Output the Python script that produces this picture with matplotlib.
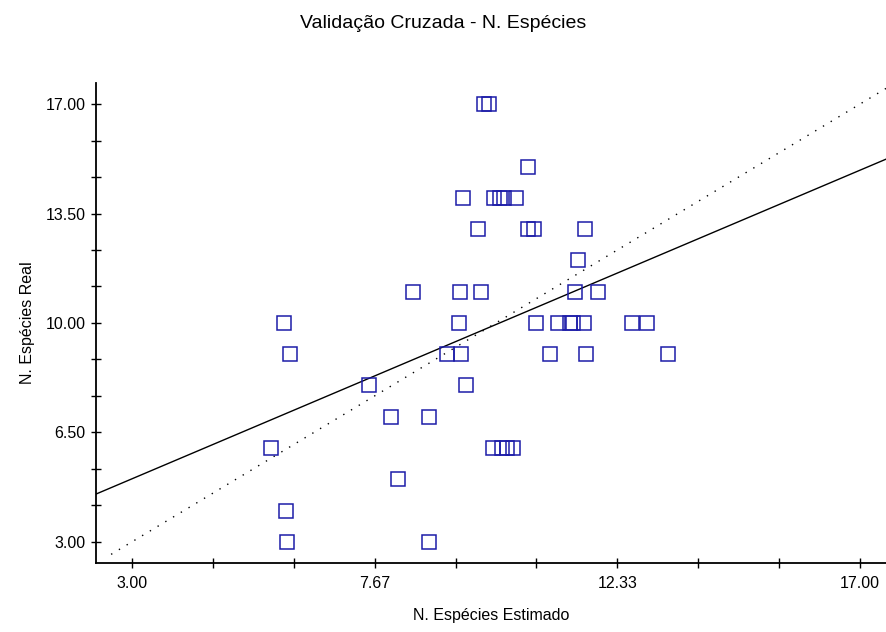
import numpy as np
import matplotlib
matplotlib.use('Agg')
from matplotlib import pyplot as plt

plt.rcParams['font.family'] = ['Liberation Sans', 'DejaVu Sans']

# estimated (x) vs real (y) species count, cross-validation
estimado = [9.77, 9.87,
            10.62,
            9.36, 9.97, 10.07, 10.15, 10.39,
            9.65, 10.61, 10.74, 11.71,
            11.58,
            8.40, 9.31, 9.71, 11.52, 11.96,
            5.93, 9.29, 10.77, 11.19, 11.43, 11.48, 11.70, 12.61, 12.90,
            6.03, 9.05, 9.33, 11.04, 11.74, 13.31,
            7.56, 9.42,
            7.98, 8.72,
            5.67, 9.94, 10.12, 10.21, 10.33,
            8.11,
            5.96,
            5.99, 8.72]
real = [17, 17,
        15,
        14, 14, 14, 14, 14,
        13, 13, 13, 13,
        12,
        11, 11, 11, 11, 11,
        10, 10, 10, 10, 10, 10, 10, 10, 10,
        9, 9, 9, 9, 9, 9,
        8, 8,
        7, 7,
        6, 6, 6, 6, 6,
        5,
        4,
        3, 3]

# fitted line y = a + b*x
intercept = 2.90
slope = 0.705

x_ticks = [3.0 + k * 14.0 / 9 for k in range(10)]
x_labels = ['3.00', '', '', '7.67', '', '', '12.33', '', '', '17.00']
y_ticks = [3.0 + k * 3.5 / 3 for k in range(13)]
y_labels = ['3.00', '', '', '6.50', '', '', '10.00', '', '', '13.50', '', '', '17.00']

fig = plt.figure(figsize=(8.86, 6.32), dpi=100, facecolor='w')
ax = fig.add_axes([0.1084, 0.109, 0.8916, 0.760])

xmin, xmax = 2.31, 17.5
ymin, ymax = 2.32, 17.68

xx = np.array([xmin, xmax])
ax.plot(xx, intercept + slope * xx, color='black', lw=1.0, zorder=2)
dd = np.array([2.6, 17.8])
ax.plot(dd, dd, color='black', lw=1.0, linestyle=(0, (1, 5.5)), zorder=2)

ax.plot(estimado, real, linestyle='none', marker='s', markersize=10,
        markerfacecolor='none', markeredgecolor='#1c1ca8', markeredgewidth=1.1,
        zorder=3)

ax.set_xlim(xmin, xmax)
ax.set_ylim(ymin, ymax)
ax.set_xticks(x_ticks)
ax.set_xticklabels(x_labels)
ax.set_yticks(y_ticks)
ax.set_yticklabels(y_labels)
ax.tick_params(direction='inout', length=7, width=1.0, labelsize=11.5,
               colors='black', pad=4)
ax.tick_params(axis='x', pad=6)

for s in ['top', 'right']:
    ax.spines[s].set_visible(False)
for s in ['left', 'bottom']:
    ax.spines[s].set_linewidth(1.3)

ax.set_xlabel('N. Espécies Estimado', fontsize=11.5, labelpad=12)
ax.set_ylabel('N. Espécies Real', fontsize=11.5, labelpad=8)
fig.text(0.5, 1 - 28 / 632.0, 'Validação Cruzada - N. Espécies',
         ha='center', va='baseline', fontsize=14)

fig.savefig('out.png', dpi=100)
